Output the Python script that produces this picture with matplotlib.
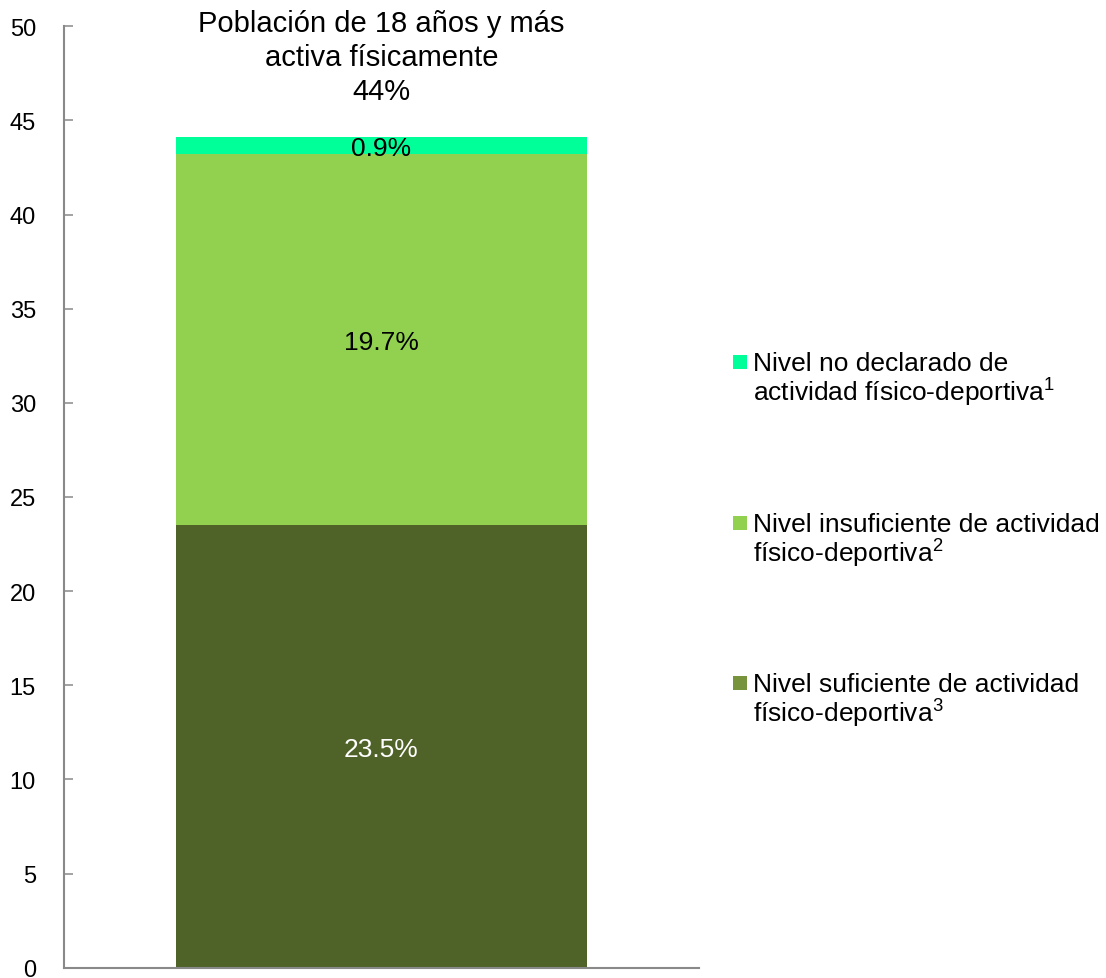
import matplotlib
matplotlib.use("Agg")
import matplotlib.pyplot as plt
from matplotlib.patches import Rectangle

plt.rcParams['font.family'] = ['Liberation Sans', 'DejaVu Sans']

# niveles de actividad, de abajo hacia arriba
niveles = [
    'Nivel suficiente de actividad\nfísico-deportiva$\\mathregular{^3}$',
    'Nivel insuficiente de actividad\nfísico-deportiva$\\mathregular{^2}$',
    'Nivel no declarado de\nactividad físico-deportiva$\\mathregular{^1}$',
]
valores = [23.5, 19.7, 0.9]
total = 44
etiquetas = ['23.5%', '19.7%', '0.9%']
colores_barra = ['#4F6228', '#92D050', '#00FF99']
colores_leyenda = ['#77933C', '#92D050', '#00FF99']
colores_texto = ['white', 'black', 'black']
titulo = 'Población de 18 años y más\nactiva físicamente\n{}%'.format(total)
yticks = [0, 5, 10, 15, 20, 25, 30, 35, 40, 45, 50]

W, H = 1106, 979
fig = plt.figure(figsize=(W / 100, H / 100), dpi=100)
ax = fig.add_axes([63.7 / W, 1 - 968.7 / H, (699 - 63.7) / W, (968.7 - 27.3) / H])

base = 0
for v, c, lab, tc in zip(valores, colores_barra, etiquetas, colores_texto):
    ax.bar(0, v, width=0.646, bottom=base, color=c, linewidth=0)
    ax.text(0, base + v / 2, lab, ha='center', va='center_baseline', fontsize=19, color=tc)
    base += v

ax.annotate(titulo, xy=(0, base), xytext=(0, 23.5), textcoords='offset points',
            ha='center', va='bottom', fontsize=21, linespacing=1.26)

ax.set_xlim(-0.5, 0.5)
ax.set_ylim(0, 50)
ax.set_yticks(yticks)
ax.set_xticks([])
for s in ['top', 'right']:
    ax.spines[s].set_visible(False)
for s in ['left', 'bottom']:
    ax.spines[s].set_color('#898989')
    ax.spines[s].set_linewidth(1.5)
ax.tick_params(axis='y', direction='in', length=6.5, width=1.1, color='#898989',
               labelsize=17, pad=20)

# leyenda dibujada a mano, de arriba hacia abajo
baselines = [372, 533, 693]
salto = 30
for lab, c, yb in zip(niveles[::-1], colores_leyenda[::-1], baselines):
    fig.add_artist(Rectangle((733 / W, 1 - (yb - 2) / H), 14 / W, 14 / H,
                             transform=fig.transFigure, color=c, linewidth=0))
    fig.text(753 / W, 1 - (yb + salto) / H, lab, ha='left', va='baseline',
             fontsize=19, linespacing=1.05)

fig.savefig('out.png', dpi=100)
